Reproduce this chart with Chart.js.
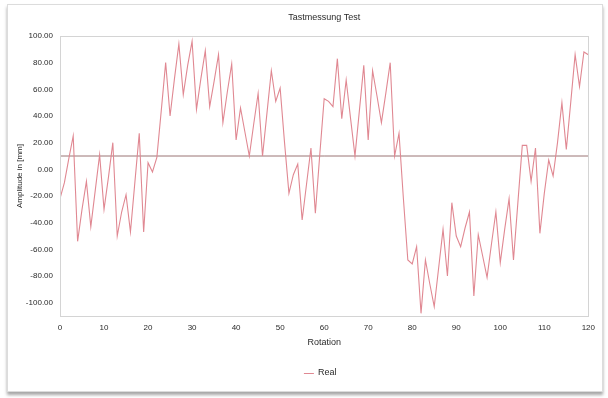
<!DOCTYPE html>
<html>
<head>
<meta charset="utf-8">
<script src="https://cdn.jsdelivr.net/npm/chart.js@4/dist/chart.umd.min.js"></script>
<style>
  html, body { margin: 0; padding: 0; background: #ffffff; }
  body { width: 608px; height: 398px; position: relative; overflow: hidden; }
  #panel {
    position: absolute; left: 7px; top: 4px; width: 594px; height: 386px;
    border: 1px solid #dcdcdc; background: #ffffff;
    box-shadow: 0 3px 3px rgba(0,0,0,0.35);
  }
  #chart { position: absolute; left: 0; top: 0; }
</style>
</head>
<body>
<div id="panel"><canvas id="chart" width="594" height="386"></canvas></div>
<script>
// Measured amplitude per rotation step
const amplitude = [
  -22, -10, 8, 25, -54, -30, -9, -43, -16, 11,
  -30, -6, 20, -50, -32, -19, -47, -10, 27, -47,
  5, -2, 9, 44, 80, 40, 68, 94, 56, 78,
  96, 45, 68, 89, 47, 66, 86, 35, 58, 79,
  22, 46, 28, 10, 34, 57, 10, 42, 74, 51,
  61, 20, -18, -4, 4, -38, -11, 16, -33, 11,
  53, 51, 47, 83, 38, 67, 38, 10, 44, 78,
  22, 74, 55, 35, 57, 80, 10, 27, -22, -68,
  -71, -58, -108, -68, -86, -103, -74, -45, -80, -25,
  -50, -58, -44, -32, -95, -49, -65, -81, -56, -32,
  -70, -45, -22, -68, -25, 18, 18, -9, 16, -48,
  -18, 7, -5, 20, 50, 15, 50, 86, 62, 88,
  86
];
// Rotation index of each sample
const rotations = amplitude.map((_, i) => i);
// Reference level drawn across the plot
const referenceLevel = 10;
// Axis ticks
const yTickValues = [100, 80, 60, 40, 20, 0, -20, -40, -60, -80, -100];
const xTickValues = [0, 10, 20, 30, 40, 50, 60, 70, 80, 90, 100, 110, 120];

const titleText = 'Tastmessung Test';
const xAxisTitle = 'Rotation';
const yAxisTitle = 'Amplitude in [mm]';
const seriesName = 'Real';

const lineColor = '#e08892';
const levelColor = '#9a7474';
const textColor = '#2a2a2a';
const fontFamily = '"Liberation Sans", Arial, sans-serif';

// Title, legend and plot frame drawn relative to the plot area
const decorations = {
  id: 'decorations',
  afterDraw(chart) {
    const { ctx, chartArea } = chart;
    const cx = (chartArea.left + chartArea.right) / 2;
    ctx.save();
    ctx.strokeStyle = '#d4d4d4';
    ctx.lineWidth = 1;
    ctx.strokeRect(Math.round(chartArea.left) + 0.5, Math.round(chartArea.top) + 0.5,
      Math.round(chartArea.right - chartArea.left), Math.round(chartArea.bottom - chartArea.top));

    ctx.fillStyle = textColor;
    ctx.font = '9px ' + fontFamily;
    ctx.textAlign = 'center';
    ctx.textBaseline = 'middle';
    ctx.fillText(titleText, cx, 13);

    // legend entry
    const tw = ctx.measureText(seriesName).width;
    const sample = 10, gap = 4;
    const total = sample + gap + tw;
    const lx = cx - 4 - total / 2;
    const ly = 368;
    ctx.strokeStyle = lineColor;
    ctx.lineWidth = 1;
    ctx.beginPath();
    ctx.moveTo(lx, ly + 0.5);
    ctx.lineTo(lx + sample, ly + 0.5);
    ctx.stroke();
    ctx.textAlign = 'left';
    ctx.fillStyle = textColor;
    ctx.fillText(seriesName, lx + sample + gap, ly);
    ctx.restore();
  }
};

new Chart(document.getElementById('chart'), {
  type: 'line',
  data: {
    datasets: [
      {
        label: seriesName,
        data: amplitude.map((v, i) => ({ x: rotations[i], y: v })),
        borderColor: lineColor,
        borderWidth: 1.1,
        pointRadius: 0,
        tension: 0,
        fill: false
      },
      {
        label: 'level',
        data: [
          { x: rotations[0], y: referenceLevel },
          { x: rotations[rotations.length - 1], y: referenceLevel }
        ],
        borderColor: levelColor,
        borderWidth: 1,
        pointRadius: 0,
        fill: false
      }
    ]
  },
  options: {
    responsive: false,
    animation: false,
    devicePixelRatio: 1,
    layout: { padding: { top: 31, right: 10, bottom: 43, left: 0 } },
    plugins: {
      legend: { display: false },
      title: { display: false },
      tooltip: { enabled: false }
    },
    scales: {
      x: {
        type: 'linear',
        min: 0,
        max: 120,
        grid: { display: false, drawTicks: false },
        border: { display: false },
        afterBuildTicks(scale) { scale.ticks = xTickValues.map(v => ({ value: v })); },
        afterFit(scale) { scale.height = 32; },
        ticks: {
          padding: 7,
          maxRotation: 0,
          color: textColor,
          font: { size: 8, family: fontFamily }
        },
        title: {
          display: true,
          text: xAxisTitle,
          color: textColor,
          padding: { top: 2, bottom: 0 },
          font: { size: 9, family: fontFamily }
        }
      },
      y: {
        min: -110,
        max: 100,
        grid: { display: false, drawTicks: false },
        border: { display: false },
        afterBuildTicks(scale) { scale.ticks = yTickValues.map(v => ({ value: v })); },
        afterFit(scale) { scale.width = 52; },
        ticks: {
          padding: 7,
          color: textColor,
          font: { size: 8, family: fontFamily },
          callback: v => Number(v).toFixed(2)
        },
        title: {
          display: true,
          text: yAxisTitle,
          color: textColor,
          padding: { top: 7, bottom: 0 },
          font: { size: 8, family: fontFamily }
        }
      }
    }
  },
  plugins: [decorations]
});
</script>
</body>
</html>
